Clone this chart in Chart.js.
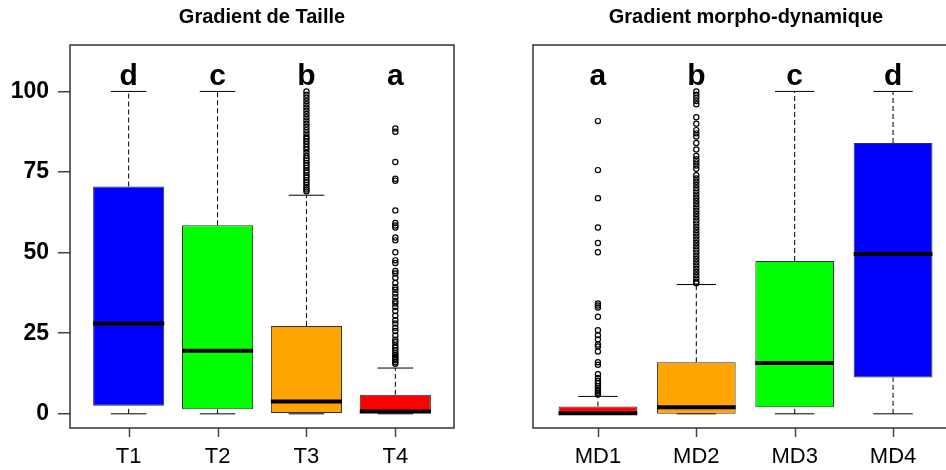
<!DOCTYPE html>
<html>
<head>
<meta charset="utf-8">
<script src="https://cdn.jsdelivr.net/npm/chart.js@4"></script>
<style>
  html, body { margin: 0; padding: 0; background: #fff; overflow: hidden; }
  #wrap { position: relative; width: 946px; height: 470px; overflow: hidden; }
  canvas { position: absolute; top: 0; }
  .title { position: absolute; top: 5px; font: bold 20px "Liberation Sans", Arial, sans-serif; color: #000; transform: translateX(-50%); white-space: nowrap; }
</style>
</head>
<body>
<div id="wrap">
  <canvas id="left" width="473" height="470" style="left:0"></canvas>
  <canvas id="right" width="500" height="470" style="left:473px"></canvas>
  <div class="title" style="left:262px">Gradient de Taille</div>
  <div class="title" style="left:746px">Gradient morpho-dynamique</div>
</div>
<script>
// gradient de taille
const tailleLabels = ["T1", "T2", "T3", "T4"];
const tailleColors = ["#0000ff", "#00ff00", "#ffa500", "#ff0000"];
const tailleLetters = ["d", "c", "b", "a"];
const tailleMin = [0, 0, 0, 0];
const tailleQ1 = [2.5, 1.4, 0, 0];
const tailleMed = [28, 19.6, 3.8, 0.7];
const tailleQ3 = [70.5, 58.5, 27.2, 5.9];
const tailleMax = [100, 100, 67.8, 14.2];
const tailleOut = [
  [],
  [],
  [69, 69.6, 70.2, 71, 71.8, 72.5, 73.3, 74, 74.8, 75.5, 76.3, 77, 77.8, 78.6, 79.3, 80,
   81, 82, 82.8, 83.6, 84.5, 85.3, 86, 87, 88, 89, 90, 91, 92, 93, 94, 95, 96, 97, 98, 99, 100],
  [88.5, 87.5, 78.1, 72.9, 72.3, 63.1, 59.2, 58.4, 57.8, 54.7, 53.8, 50.1, 47.6, 46.8, 44.3,
   43.5, 42.2, 40.6, 39.3, 38.5, 37.3, 36.2, 35, 34.2, 33.1, 31.9, 30.4, 29, 28, 26.7, 25.7,
   24.3, 23, 22.2, 21.2, 20.5, 19.7, 18.8, 18.2, 17.6, 17.1, 16.6, 16, 15.5]
];

// gradient morpho-dynamique
const mdLabels = ["MD1", "MD2", "MD3", "MD4"];
const mdColors = ["#ff0000", "#ffa500", "#00ff00", "#0000ff"];
const mdLetters = ["a", "b", "c", "d"];
const mdMin = [0, 0, 0, 0];
const mdQ1 = [0, 0, 2, 11.3];
const mdMed = [0.2, 2, 15.8, 49.6];
const mdQ3 = [2.3, 16, 47.4, 84];
const mdMax = [5.4, 40.1, 100, 100];
const mdOut = [
  [90.8, 75.6, 66.9, 57.8, 53, 50.1, 34.2, 33.6, 33, 30.1, 25.9, 24.4, 23.1, 21.5, 20.9, 19.3,
   16, 15.2, 12.3, 11.1, 10.2, 9.5, 8.6, 8, 7.5, 7, 6.5, 6],
  [40.5, 41, 42, 43, 44, 45, 46, 47, 48, 49, 50, 51, 52, 53, 54, 55, 56, 57, 58, 59, 60, 61,
   62, 63, 64, 65, 66, 67, 68, 69, 70, 71, 72, 73, 74, 76, 77, 78, 79, 80, 82, 84, 86, 87, 88,
   90, 92, 96, 97, 98, 99, 100],
  [],
  []
];

const yTicks = [0, 25, 50, 75, 100];
const letterY = 104.7;

const FONT = '"Liberation Sans", Arial, sans-serif';

// cadre, graduations x + lettres
const framePlugin = {
  id: "frame",
  afterDatasetsDraw(chart, args, opts) {
    const { ctx, chartArea: a, scales } = chart;
    ctx.save();
    ctx.fillStyle = "#000";
    ctx.font = "bold 30px " + FONT;
    ctx.textAlign = "center";
    ctx.textBaseline = "middle";
    opts.letters.forEach((l, i) => {
      ctx.fillText(l, scales.x.getPixelForValue(i + 1), scales.y.getPixelForValue(letterY));
    });
    ctx.strokeStyle = "#444";
    ctx.lineWidth = 1.5;
    opts.letters.forEach((l, i) => {
      const px = Math.round(scales.x.getPixelForValue(i + 1)) + 0.5;
      ctx.beginPath();
      ctx.moveTo(px, a.bottom);
      ctx.lineTo(px, a.bottom + 9);
      ctx.stroke();
    });
    ctx.strokeStyle = "#333";
    ctx.strokeRect(a.left, a.top, a.right - a.left, a.bottom - a.top);
    ctx.restore();
  }
};

function seg(data, opts) {
  return Object.assign({
    type: "line",
    data: data,
    borderColor: "#000",
    borderWidth: 1,
    pointRadius: 0,
    fill: false,
    order: 0
  }, opts);
}

function makeBoxChart(id, labels, colors, letters, mn, q1, med, q3, mx, out, showY, yWidth, padRight) {
  const datasets = [{
    type: "bar",
    data: labels.map((l, i) => ({ x: i + 1, y: [q1[i], q3[i]] })),
    backgroundColor: colors,
    borderColor: "#333",
    borderWidth: 1,
    borderSkipped: false,
    barPercentage: 0.8,
    categoryPercentage: 1,
    order: 2
  }];
  labels.forEach((l, i) => {
    const x = i + 1;
    // moustaches
    if (mx[i] > q3[i]) datasets.push(seg([{ x: x, y: q3[i] }, { x: x, y: mx[i] }], { borderDash: [5, 3], order: 3 }));
    if (q1[i] > mn[i]) datasets.push(seg([{ x: x, y: mn[i] }, { x: x, y: q1[i] }], { borderDash: [5, 3], order: 3 }));
    datasets.push(seg([{ x: x - 0.2, y: mx[i] }, { x: x + 0.2, y: mx[i] }], { order: 3 }));
    datasets.push(seg([{ x: x - 0.2, y: mn[i] }, { x: x + 0.2, y: mn[i] }], { order: 3 }));
    // médiane
    datasets.push(seg([{ x: x - 0.4, y: med[i] }, { x: x + 0.4, y: med[i] }], { borderWidth: 4, borderCapStyle: "butt" }));
    // valeurs extrêmes
    if (out[i].length) {
      datasets.push({
        type: "line",
        data: out[i].map(v => ({ x: x, y: v })),
        showLine: false,
        pointRadius: 2.6,
        pointBorderWidth: 1.2,
        pointBorderColor: "#000",
        pointBackgroundColor: "rgba(0,0,0,0)",
        order: 1
      });
    }
  });

  return new Chart(document.getElementById(id), {
    type: "bar",
    data: { datasets: datasets },
    plugins: [framePlugin],
    options: {
      responsive: false,
      animation: false,
      devicePixelRatio: 1,
      layout: { padding: { top: 45, right: padRight, left: 0, bottom: 0 } },
      plugins: {
        legend: { display: false },
        tooltip: { enabled: false },
        frame: { letters: letters }
      },
      scales: {
        x: {
          type: "linear",
          min: 0.34,
          max: 4.66,
          offset: false,
          afterFit: (s) => { s.height = 42; },
          afterBuildTicks: (s) => { s.ticks = labels.map((l, i) => ({ value: i + 1 })); },
          ticks: {
            callback: (v) => labels[v - 1],
            font: { size: 22, family: FONT },
            color: "#000",
            padding: 8,
            maxRotation: 0,
            autoSkip: false
          },
          grid: { display: false },
          border: { display: false }
        },
        y: {
          type: "linear",
          min: -4.4,
          max: 114.4,
          display: showY,
          afterFit: (s) => { s.width = yWidth; },
          afterBuildTicks: (s) => { s.ticks = yTicks.map(v => ({ value: v })); },
          ticks: {
            font: { size: 23, weight: "bold", family: FONT },
            color: "#000",
            padding: 9
          },
          grid: { drawOnChartArea: false, drawTicks: true, tickLength: 12, color: "#444", lineWidth: 1.5 },
          border: { display: false }
        }
      }
    }
  });
}

makeBoxChart("left", tailleLabels, tailleColors, tailleLetters, tailleMin, tailleQ1, tailleMed, tailleQ3, tailleMax, tailleOut, true, 70, 19);
makeBoxChart("right", mdLabels, mdColors, mdLetters, mdMin, mdQ1, mdMed, mdQ3, mdMax, mdOut, false, 60, 15);
</script>
</body>
</html>
